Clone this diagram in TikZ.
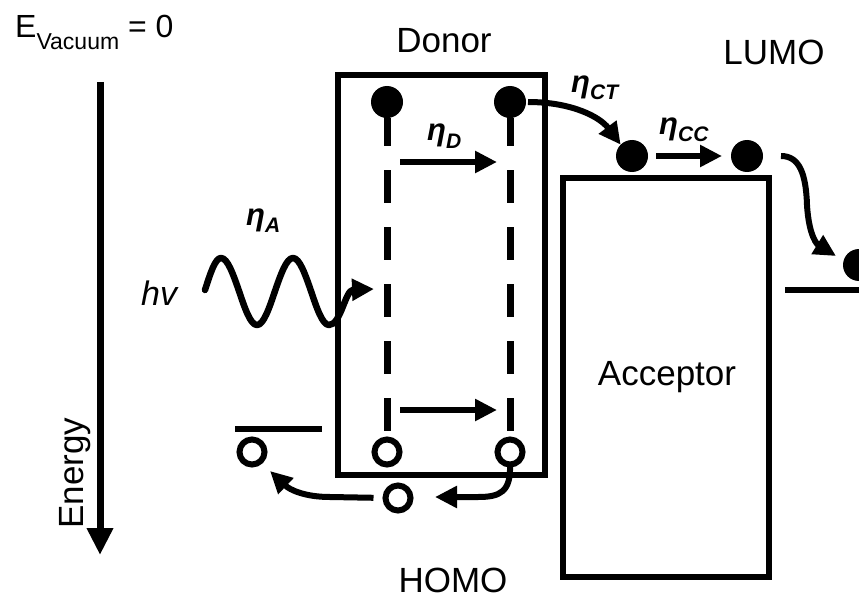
\documentclass[tikz,border=0pt]{standalone}
\usepackage{fontspec}
\setmainfont{Liberation Sans}
\usetikzlibrary{arrows.meta}
\newcommand\etasub[1]{{\fontsize{31}{31}\selectfont\bfseries\itshape η\raisebox{-7pt}{\fontsize{21}{21}\selectfont #1}}}
\begin{document}
\begin{tikzpicture}[x=1pt,y=-1pt,
  lbl/.style={inner sep=0pt,font=\fontsize{35}{35}\selectfont},
  eta/.style={inner sep=0pt,anchor=base west},
  bandbox/.style={draw,line width=6.5pt,inner sep=0pt,outer sep=0pt},
  filled/.style={circle,fill=black,inner sep=0pt,outer sep=0pt,minimum size=32pt},
  hole/.style={circle,draw,line width=6pt,fill=white,inner sep=0pt,outer sep=0pt,minimum size=25pt},
  arr/.style={line width=6pt,-{Triangle[length=22pt,width=21pt]}},
  level/.style={line width=6.5pt},
  dashline/.style={line width=7pt,dash pattern=on 33pt off 24pt}]
\useasboundingbox (0,0) rectangle (859,599);

% boxes
\node[bandbox,minimum width=207pt,minimum height=400pt] (donor) at (441.5,275) {};
\node[bandbox,minimum width=206pt,minimum height=399pt] (acceptor) at (666,377.5) {};

% labels
\node[anchor=base west,inner sep=0pt] (evac) at (15,38)
  {\fontsize{32}{32}\selectfont E\raisebox{-12pt}{\fontsize{23}{23}\selectfont Vacuum} = 0};
\node[lbl,anchor=base] (donorlbl) at (444,53) {Donor};
\node[lbl,anchor=base] (lumolbl) at (774,65) {LUMO};
\node[lbl,anchor=base] (homolbl) at (453,592) {HOMO};
\node[lbl,anchor=base] (acclbl) at (667,385) {Acceptor};
\node[lbl,anchor=base,rotate=90] (energylbl) at (83,473) {Energy};
\node[eta] (etaA) at (246,225) {\etasub{A}};
\node[eta] (etaD) at (427,141) {\etasub{D}};
\node[eta] (etaCT) at (571,93) {\etasub{CT}};
\node[eta] (etaCC) at (659,135) {\etasub{CC}};
\node[anchor=base west,inner sep=0pt] (hv) at (141,305) {\fontsize{34}{34}\selectfont\itshape hv};

% energy axis
\coordinate (eTop) at (100,82);
\coordinate (eBot) at (100,555);
\draw[line width=7pt,-{Triangle[length=27pt,width=25pt]}] (eTop) -- (eBot);

% levels
\coordinate (lvlL1) at (235,429);
\coordinate (lvlL2) at (322,429);
\draw[level] (lvlL1) -- (lvlL2);
\coordinate (lvlR1) at (785,290);
\coordinate (lvlR2) at (870,290);
\draw[level] (lvlR1) -- (lvlR2);

% electrons and holes
\node[filled] (dL) at (387,102) {};
\node[filled] (dR) at (510,102) {};
\node[filled] (aL) at (632,156) {};
\node[filled] (aR) at (747,156) {};
\node[filled] (fr) at (859,265) {};
\node[hole] (hL) at (387,452) {};
\node[hole] (hR) at (510,452) {};
\node[hole] (hB) at (398,498) {};
\node[hole] (hX) at (252,452) {};

% dashed exciton lines
\draw[dashline,dash phase=5pt] (dL.south) -- (hL.north);
\draw[dashline,dash phase=5pt] (dR.south) -- (hR.north);
\draw[line width=6pt] (dL.center) -- (dL.south);
\draw[line width=6pt] (dR.center) -- (dR.south);

% eta_D arrows
\coordinate (dA1) at (400,162);
\coordinate (dA2) at (497,162);
\draw[arr] (dA1) -- (dA2);
\coordinate (dB1) at (400,410);
\coordinate (dB2) at (497,410);
\draw[arr] (dB1) -- (dB2);

% photon
\coordinate (w0) at (205,290);
\coordinate (wEnd) at (374,289);
\draw[arr,line width=6.5pt,line join=round,line cap=round] (w0) sin (221,258) cos (239,291) sin (257,325) cos (275,291) sin (293,258) cos (311,291) sin (329,325)
  .. controls (341,325) and (345,290) .. (wEnd);

% charge transfer
\draw[arr,shorten <=2pt] (dR.east) .. controls (572,102) and (600,117) .. (aL.north west);
\draw[arr,shorten <=8pt,shorten >=9pt] (aL.east) -- (aR.west);
\coordinate (frIn) at (836,256);
\draw[arr,shorten <=18pt] (aR.east) .. controls (800,156) and (806,175) .. (807,205)
  .. controls (809,238) and (818,245) .. (frIn);

% hole transfer
\coordinate (hBin) at (435,497);
\draw[arr] (hR.south) .. controls (511,492) and (500,497) .. (478,497) -- (hBin);
\coordinate (hXin) at (270,471);
\draw[arr,shorten <=12pt] (hB.west) -- (330,497) .. controls (305,497) and (290,490) .. (hXin);
\end{tikzpicture}
\end{document}
